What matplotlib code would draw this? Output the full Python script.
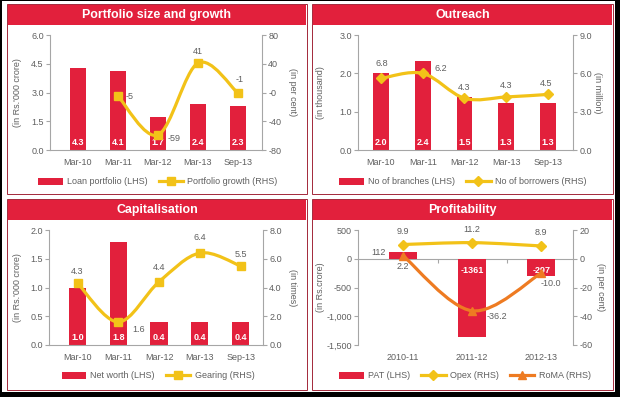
import numpy as np
import matplotlib
matplotlib.use("Agg")
import matplotlib.pyplot as plt
from matplotlib.patches import Rectangle, PathPatch, Patch
from matplotlib.path import Path
from matplotlib.lines import Line2D

# --- Data ---
periods = ["Mar-10", "Mar-11", "Mar-12", "Mar-13", "Sep-13"]
loan_portfolio = [4.3, 4.1, 1.7, 2.4, 2.3]
portfolio_growth = [np.nan, -5, -59, 41, -1]

branches = [2.0, 2.32, 1.38, 1.23, 1.23]
branch_labels = ["2.0", "2.4", "1.5", "1.3", "1.3"]
borrowers = [5.6, 6.0, 4.05, 4.15, 4.35]
borrower_labels = ["6.8", "6.2", "4.3", "4.3", "4.5"]

net_worth = [1.0, 1.8, 0.4, 0.4, 0.4]
gearing = [4.3, 1.6, 4.4, 6.4, 5.5]

years = ["2010-11", "2011-12", "2012-13"]
pat = [112, -1361, -297]
opex = [9.9, 11.2, 8.9]
roma = [2.2, -36.2, -10.0]

# --- Style ---
RED = "#e2203c"
YEL = "#f2c218"
ORG = "#ee7b22"
TXT = "#5f5f5f"
AXC = "#a6a6a6"
BORDER = "#a3283a"
FS = 6.5
plt.rcParams.update({"font.family": ["Liberation Sans", "DejaVu Sans"], "font.size": FS})

W, H = 620, 397
PT = 0.72  # points per pixel at dpi 100

fig = plt.figure(figsize=(W / 100, H / 100), dpi=100)
fig.patch.set_facecolor("white")


def rect(x0, y0, x1, y1, **kw):
    fig.patches.append(Rectangle((x0 / W, 1 - y1 / H), (x1 - x0) / W, (y1 - y0) / H,
                                 transform=fig.transFigure, **kw))


def panel(x0, y0, x1, y1, title):
    rect(x0, y0, x1, y1, fill=False, ec=BORDER, lw=0.7)
    rect(x0 + 1, y0 + 1, x1 - 1, y0 + 21, fc=RED, ec="none")
    fig.text((x0 + x1) / 2 / W, 1 - (y0 + 11) / H, title, color="white", fontsize=8.9,
             fontweight="bold", ha="center", va="center")


def make_axes(x0, y0, x1, y1):
    ax = fig.add_axes([x0 / W, 1 - y1 / H, (x1 - x0) / W, (y1 - y0) / H])
    ax2 = ax.twinx()
    for a in (ax, ax2):
        for s in a.spines.values():
            s.set_color(AXC)
            s.set_linewidth(0.8)
        a.spines["top"].set_visible(False)
        a.set_facecolor("none")
        a.tick_params(axis="y", direction="out", length=3, width=0.8, color=AXC,
                      labelsize=FS, labelcolor=TXT, pad=1.5)
    ax.spines["right"].set_visible(False)
    ax2.spines["left"].set_visible(False)
    ax2.spines["bottom"].set_visible(False)
    ax.tick_params(axis="x", length=0, labelsize=FS, labelcolor=TXT, pad=5.5)
    return ax, ax2


def smooth(ax, xs, ys, color, lw=2.3):
    pts = np.column_stack([xs, ys]).astype(float)
    pts = pts[~np.isnan(pts[:, 1])]
    n = len(pts)
    verts, codes = [pts[0]], [Path.MOVETO]
    for i in range(n - 1):
        p0, p1, p2, p3 = pts[max(i - 1, 0)], pts[i], pts[i + 1], pts[min(i + 2, n - 1)]
        verts += [p1 + (p2 - p0) / 6, p2 - (p3 - p1) / 6, p2]
        codes += [Path.CURVE4] * 3
    ax.add_patch(PathPatch(Path(verts, codes), fill=False, ec=color, lw=lw,
                           capstyle="round", joinstyle="round"))


def note(ax, x, y, s, dx, dy, ha="center", **kw):
    ax.annotate(s, (x, y), xytext=(dx * PT, dy * PT), textcoords="offset points",
                ha=ha, va="center", fontsize=FS, color=kw.pop("color", TXT), **kw)


def legend(handles, labels, cx, cy, ncol):
    fig.legend(handles, labels, loc="center", bbox_to_anchor=(cx / W, 1 - cy / H), ncol=ncol,
               frameon=False, fontsize=FS, handlelength=2.7, handleheight=0.9,
               handletextpad=0.5, columnspacing=1.2, labelcolor=TXT)


# black frame edges
rect(0, 0, 2, H, fc="black", ec="none")
rect(0, 0, W, 1, fc="black", ec="none")
rect(615, 0, W, H, fc="black", ec="none")
rect(0, 392, W, H, fc="black", ec="none")

# ============================================================
# 1. Portfolio size and growth
# ============================================================
panel(7, 4, 307, 194, "Portfolio size and growth")
ax, ax2 = make_axes(50, 35, 262, 150)
x = np.arange(len(periods))
ax.bar(x, loan_portfolio, 0.4, color=RED)
for i, v in enumerate(loan_portfolio):
    note(ax, i, 0, f"{v:.1f}", 0, 8, color="white", fontweight="bold")
ax.set_xlim(-0.7, 4.6)
ax.set_ylim(0, 6)
ax.set_yticks([0, 1.5, 3, 4.5, 6], ["0.0", "1.5", "3.0", "4.5", "6.0"])
ax.set_xticks(x, periods)
ax.set_ylabel("(in Rs.'000 crore)", fontsize=FS, color=TXT)
ax.yaxis.set_label_coords(-0.132, 0.5)
ax2.set_ylim(-80, 80)
ax2.set_yticks([-80, -40, 0, 40, 80], ["-80", "-40", "-0", "40", "80"])
ax2.set_ylabel("(in per cent)", fontsize=FS, color=TXT, rotation=270, va="center")
ax2.yaxis.set_label_coords(1.146, 0.5)
smooth(ax2, x, portfolio_growth, YEL)
ax2.plot(x, portfolio_growth, ls="none", marker="s", ms=6, color=YEL)
for (i, dx, dy, ha) in [(1, 8, 0, "left"), (2, 10, -4, "left"), (3, 0, 12, "center"), (4, 2, 14, "center")]:
    note(ax2, i, portfolio_growth[i], f"{portfolio_growth[i]:.0f}", dx, dy, ha=ha)
legend([Patch(fc=RED), Line2D([], [], color=YEL, lw=2.3, marker="s", ms=6)],
       ["Loan portfolio (LHS)", "Portfolio growth (RHS)"], 158, 182, 2)

# ============================================================
# 2. Outreach
# ============================================================
panel(312, 4, 613, 194, "Outreach")
ax, ax2 = make_axes(358, 35, 573, 150)
ax.bar(x, branches, 0.38, color=RED)
for i, s in enumerate(branch_labels):
    note(ax, i, 0, s, 0, 8, color="white", fontweight="bold")
ax.set_xlim(-0.55, 4.6)
ax.set_ylim(0, 3)
ax.set_yticks([0, 1, 2, 3], ["0.0", "1.0", "2.0", "3.0"])
ax.set_xticks(x, periods)
ax.set_ylabel("(in thousand)", fontsize=FS, color=TXT)
ax.yaxis.set_label_coords(-0.153, 0.5)
ax2.set_ylim(0, 9)
ax2.set_yticks([0, 3, 6, 9], ["0.0", "3.0", "6.0", "9.0"])
ax2.set_ylabel("(in million)", fontsize=FS, color=TXT, rotation=270, va="center")
ax2.yaxis.set_label_coords(1.116, 0.5)
smooth(ax2, x, borrowers, YEL)
ax2.plot(x, borrowers, ls="none", marker="D", ms=5.5, color=YEL)
for (i, dx, dy, ha) in [(0, 1, 15, "center"), (1, 12, 5, "left"), (2, 0, 11, "center"),
                        (3, 0, 11, "center"), (4, -2, 11, "center")]:
    note(ax2, i, borrowers[i], borrower_labels[i], dx, dy, ha=ha)
legend([Patch(fc=RED), Line2D([], [], color=YEL, lw=2.3, marker="D", ms=5.5)],
       ["No of branches (LHS)", "No of borrowers (RHS)"], 463, 182, 2)

# ============================================================
# 3. Capitalisation
# ============================================================
panel(7, 199, 307, 390, "Capitalisation")
ax, ax2 = make_axes(49, 230, 263, 345)
ax.bar(x, net_worth, 0.42, color=RED)
for i, v in enumerate(net_worth):
    note(ax, i, 0, f"{v:.1f}", 0, 8, color="white", fontweight="bold")
ax.set_xlim(-0.7, 4.55)
ax.set_ylim(0, 2)
ax.set_yticks([0, 0.5, 1, 1.5, 2], ["0.0", "0.5", "1.0", "1.5", "2.0"])
ax.set_xticks(x, periods)
ax.set_ylabel("(in Rs.'000 crore)", fontsize=FS, color=TXT)
ax.yaxis.set_label_coords(-0.126, 0.5)
ax2.set_ylim(0, 8)
ax2.set_yticks([0, 2, 4, 6, 8], ["0.0", "2.0", "4.0", "6.0", "8.0"])
ax2.set_ylabel("(in times)", fontsize=FS, color=TXT, rotation=270, va="center")
ax2.yaxis.set_label_coords(1.14, 0.5)
smooth(ax2, x, gearing, YEL)
ax2.plot(x, gearing, ls="none", marker="s", ms=6, color=YEL)
for (i, dx, dy, ha) in [(0, 0, 12, "center"), (1, 14, -8, "left"), (2, 0, 14, "center"),
                        (3, 0, 15, "center"), (4, 0, 11, "center")]:
    note(ax2, i, gearing[i], f"{gearing[i]:.1f}", dx, dy, ha=ha)
legend([Patch(fc=RED), Line2D([], [], color=YEL, lw=2.3, marker="s", ms=6)],
       ["Net worth (LHS)", "Gearing (RHS)"], 158, 376, 2)

# ============================================================
# 4. Profitability
# ============================================================
panel(312, 199, 613, 390, "Profitability")
ax, ax2 = make_axes(358, 230, 573, 345)
xp = np.arange(len(years))
ax.bar(xp, pat, 0.4, color=RED)
ax.spines["bottom"].set_visible(False)
ax.axhline(0, color=AXC, lw=0.8, zorder=0.5)
# small category-boundary ticks on the zero line
ax.plot(xp[:-1] + 0.5, [0] * (len(xp) - 1), ls="none", marker=3, ms=3, mew=0.8, color=AXC)
note(ax, -0.2, pat[0], f"{pat[0]}", -3, 0, ha="right")
for i in (1, 2):
    note(ax, i, 0, f"{pat[i]}", 0, -12, color="white", fontweight="bold")
ax.set_xlim(-0.65, 2.46)
ax.set_ylim(-1500, 500)
ax.set_yticks([-1500, -1000, -500, 0, 500], ["-1,500", "-1,000", "-500", "0", "500"])
ax.set_xticks(xp, years)
ax.set_ylabel("(in Rs.crore)", fontsize=FS, color=TXT)
ax.yaxis.set_label_coords(-0.153, 0.5)
ax2.set_ylim(-60, 20)
ax2.set_yticks([-60, -40, -20, 0, 20], ["-60", "-40", "-20", "0", "20"])
ax2.set_ylabel("(in per cent)", fontsize=FS, color=TXT, rotation=270, va="center")
ax2.yaxis.set_label_coords(1.126, 0.5)
smooth(ax2, xp, opex, YEL)
ax2.plot(xp, opex, ls="none", marker="D", ms=5.5, color=YEL)
smooth(ax2, xp, roma, ORG)
ax2.plot(xp, roma, ls="none", marker="^", ms=6, color=ORG)
for i in range(3):
    note(ax2, i, opex[i], f"{opex[i]:.1f}", 0, 13)
note(ax2, 0, roma[0], f"{roma[0]:.1f}", 0, -11)
note(ax2, 1, roma[1], f"{roma[1]:.1f}", 15, -6, ha="left")
note(ax2, 2, roma[2], f"{roma[2]:.1f}", -1, -10, ha="left")
legend([Patch(fc=RED), Line2D([], [], color=YEL, lw=2.3, marker="D", ms=5.5),
        Line2D([], [], color=ORG, lw=2.3, marker="^", ms=6)],
       ["PAT (LHS)", "Opex (RHS)", "RoMA (RHS)"], 465, 376, 3)

fig.savefig("out.png", dpi=100)
